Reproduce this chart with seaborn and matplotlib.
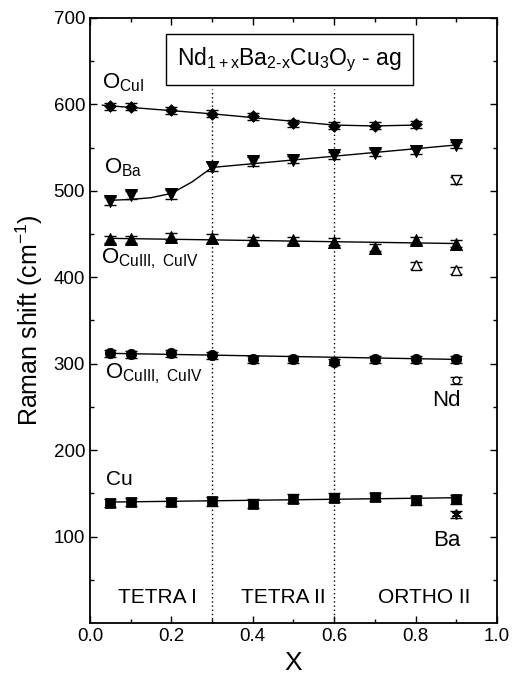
import matplotlib
matplotlib.use("Agg")
import matplotlib.pyplot as plt
import seaborn as sns
import numpy as np
import pandas as pd

# ---- data ----
x_main = [0.05, 0.1, 0.2, 0.3, 0.4, 0.5, 0.6, 0.7, 0.8, 0.9]

ocui_x = [0.05, 0.1, 0.2, 0.3, 0.4, 0.5, 0.6, 0.7, 0.8]
ocui_y = [598, 597, 593, 589, 586, 578, 575, 575, 577]
ocui_err = [4, 4, 4, 4, 4, 4, 4, 4, 4]

oba_y = [488, 495, 496, 528, 534, 536, 541, 544, 546, 553]
oba_err = [5, 5, 5, 5, 5, 4, 4, 4, 4, 4]

ocuiii_y = [444, 444, 447, 445, 443, 443, 441, 434, 443, 439]
ocuiii_err = [4, 4, 4, 5, 4, 4, 4, 4, 4, 4]

o300_y = [312, 311, 312, 310, 305, 305, 302, 305, 305, 305]
o300_err = [4, 4, 4, 4, 4, 4, 4, 4, 4, 4]

cu_y = [139, 140, 140, 141, 138, 144, 145, 146, 142, 143]
cu_err = [5, 5, 5, 5, 5, 5, 5, 5, 5, 5]

# open symbols (second phase)
open_tri_down_x = [0.9]
open_tri_down_y = [512]
open_tri_up_x = [0.8, 0.9]
open_tri_up_y = [414, 408]
open_circ_x = [0.9]
open_circ_y = [281]
star_x = [0.9]
star_y = [126]

# fitted guide curves
fit_ocui_x = [0.03, 0.3, 0.6, 0.7, 0.8]
fit_ocui_y = [599, 589, 576, 575, 576]
fit_oba_x = [0.05, 0.1, 0.15, 0.2, 0.25, 0.3, 0.6, 0.9]
fit_oba_y = [489, 490, 492, 497, 510, 527, 540, 553]
fit_ocuiii_x = [0.05, 0.9]
fit_ocuiii_y = [445, 439]
fit_o300_x = [0.05, 0.9]
fit_o300_y = [312, 305]
fit_cu_x = [0.05, 0.9]
fit_cu_y = [140, 145]

phase_bounds = [0.3, 0.6]
phase_labels = ["TETRA I", "TETRA II", "ORTHO II"]
phase_label_x = [0.165, 0.474, 0.82]

# ---- style ----
sns.set_style("ticks")
plt.rcParams['font.family'] = ['Liberation Sans', 'DejaVu Sans']
plt.rcParams['mathtext.fontset'] = 'custom'
plt.rcParams['mathtext.rm'] = 'Liberation Sans'
plt.rcParams['mathtext.it'] = 'Liberation Sans'
plt.rcParams['mathtext.bf'] = 'Liberation Sans:bold'
for k in ['text.color', 'axes.labelcolor', 'xtick.color', 'ytick.color', 'axes.edgecolor']:
    plt.rcParams[k] = 'black'

fig = plt.figure(figsize=(5.14, 6.87), dpi=100)
ax = fig.add_axes([0.175, 0.093, 0.792, 0.881])

# fit curves
for fx, fy in [(fit_ocui_x, fit_ocui_y), (fit_oba_x, fit_oba_y),
               (fit_ocuiii_x, fit_ocuiii_y), (fit_o300_x, fit_o300_y),
               (fit_cu_x, fit_cu_y)]:
    sns.lineplot(x=fx, y=fy, ax=ax, color='black', lw=1.0, sort=False)

# error bars
for xs, ys, es in [(ocui_x, ocui_y, ocui_err), (x_main, oba_y, oba_err),
                   (x_main, ocuiii_y, ocuiii_err), (x_main, o300_y, o300_err),
                   (x_main, cu_y, cu_err)]:
    ax.errorbar(xs, ys, yerr=es, fmt='none', ecolor='black', elinewidth=1.0,
                capsize=4.5, capthick=1.0)

# filled markers
sns.scatterplot(x=ocui_x, y=ocui_y, ax=ax, marker='D', s=36, color='black', edgecolor='black')
sns.scatterplot(x=x_main, y=oba_y, ax=ax, marker='v', s=75, color='black', edgecolor='black')
sns.scatterplot(x=x_main, y=ocuiii_y, ax=ax, marker='^', s=75, color='black', edgecolor='black')
sns.scatterplot(x=x_main, y=o300_y, ax=ax, marker='o', s=55, color='black', edgecolor='black')
sns.scatterplot(x=x_main, y=cu_y, ax=ax, marker='s', s=45, color='black', edgecolor='black')

# open markers
ax.errorbar(open_tri_down_x, open_tri_down_y, yerr=[4], fmt='v', mfc='white', mec='black',
            ms=7, ecolor='black', capsize=4, elinewidth=1)
ax.errorbar(open_tri_up_x, open_tri_up_y, yerr=[4, 4], fmt='^', mfc='white', mec='black',
            ms=7, ecolor='black', capsize=4, elinewidth=1, ls='none')
ax.errorbar(open_circ_x, open_circ_y, yerr=[4], fmt='o', mfc='white', mec='black',
            ms=5, ecolor='black', capsize=4, elinewidth=1)
ax.plot(star_x, star_y, marker=(6, 2, 0), ms=7, color='black', mew=1.2, ls='none')
ax.errorbar(star_x, star_y, yerr=[4], fmt='none', ecolor='black', capsize=4, elinewidth=1)

# phase boundaries
ax.vlines(phase_bounds, 0, 618, colors='black', linestyles=(0, (1, 2)), lw=1.0)
for lx, lab in zip(phase_label_x, phase_labels):
    ax.text(lx, 30, lab, ha='center', va='center', fontsize=15)

# labels
ax.text(0.03, 625, r"O$_{\mathregular{CuI}}$", fontsize=16, va='center', ha='left')
ax.text(0.035, 527, r"O$_{\mathregular{Ba}}$", fontsize=16, va='center', ha='left')
ax.text(0.028, 421, r"O$_{\mathregular{CuIII,\ CuIV}}$", fontsize=16, va='center', ha='left')
ax.text(0.038, 288, r"O$_{\mathregular{CuIII,\ CuIV}}$", fontsize=16, va='center', ha='left')
ax.text(0.876, 258, "Nd", fontsize=16, va='center', ha='center')
ax.text(0.04, 166, "Cu", fontsize=15, va='center', ha='left')
ax.text(0.877, 95, "Ba", fontsize=16, va='center', ha='center')

ax.text(0.49, 652, r"Nd$_{\mathregular{1+x}}$Ba$_{\mathregular{2\text{-}x}}$Cu$_{\mathregular{3}}$O$_{\mathregular{y}}$ - ag",
        fontsize=16.5, ha='center', va='center',
        bbox=dict(boxstyle='square,pad=0.5', fc='white', ec='black', lw=1.0))

ax.set_xlim(0, 1.0)
ax.set_ylim(0, 700)
ax.set_xticks([0.0, 0.2, 0.4, 0.6, 0.8, 1.0])
ax.set_xticklabels(["0.0", "0.2", "0.4", "0.6", "0.8", "1.0"])
ax.set_xticks(np.arange(0.1, 1.0, 0.2), minor=True)
ax.set_yticks([100, 200, 300, 400, 500, 600, 700])
ax.set_yticks(np.arange(50, 700, 100), minor=True)
ax.tick_params(which='both', direction='in', top=True, right=True, labelsize=13.5, width=1.0,
               colors='black')
ax.tick_params(which='major', length=5)
ax.tick_params(which='minor', length=3)
for sp in ax.spines.values():
    sp.set_linewidth(1.3)
    sp.set_visible(True)
    sp.set_color('black')

ax.set_xlabel("X", fontsize=19, labelpad=4)
ax.set_ylabel(r"Raman shift (cm$^{\mathregular{-1}}$)", fontsize=18, labelpad=6)

fig.savefig("out.png", dpi=100)
